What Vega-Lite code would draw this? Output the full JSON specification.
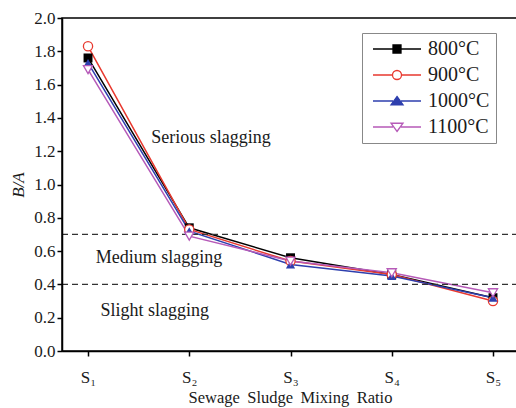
{
  "$schema": "https://vega.github.io/schema/vega-lite/v6.json",
  "width": 456,
  "height": 333,
  "autosize": "none",
  "padding": {"left": 62, "top": 18, "right": 0, "bottom": 57},
  "background": "white",
  "config": {
    "font": "Liberation Serif",
    "view": {"stroke": "black", "strokeWidth": 1.5},
    "axis": {"labelOverlap": false, "tickColor": "black", "tickWidth": 1.5, "grid": false}
  },
  "datasets": {
    "series": [
      {"ratio": 1, "temp": "800°C", "ba": 1.76},
      {"ratio": 2, "temp": "800°C", "ba": 0.74},
      {"ratio": 3, "temp": "800°C", "ba": 0.56},
      {"ratio": 4, "temp": "800°C", "ba": 0.46},
      {"ratio": 5, "temp": "800°C", "ba": 0.32},
      {"ratio": 1, "temp": "900°C", "ba": 1.83},
      {"ratio": 2, "temp": "900°C", "ba": 0.73},
      {"ratio": 3, "temp": "900°C", "ba": 0.54},
      {"ratio": 4, "temp": "900°C", "ba": 0.46},
      {"ratio": 5, "temp": "900°C", "ba": 0.30},
      {"ratio": 1, "temp": "1000°C", "ba": 1.73},
      {"ratio": 2, "temp": "1000°C", "ba": 0.72},
      {"ratio": 3, "temp": "1000°C", "ba": 0.52},
      {"ratio": 4, "temp": "1000°C", "ba": 0.45},
      {"ratio": 5, "temp": "1000°C", "ba": 0.32},
      {"ratio": 1, "temp": "1100°C", "ba": 1.69},
      {"ratio": 2, "temp": "1100°C", "ba": 0.69},
      {"ratio": 3, "temp": "1100°C", "ba": 0.54},
      {"ratio": 4, "temp": "1100°C", "ba": 0.47},
      {"ratio": 5, "temp": "1100°C", "ba": 0.35}
    ],
    "zones": [
      {"label": "Serious slagging", "ratio": 2.215, "ba": 1.28},
      {"label": "Medium slagging", "ratio": 1.70, "ba": 0.56},
      {"label": "Slight slagging", "ratio": 1.66, "ba": 0.24}
    ],
    "limits": [{"ba": 0.7, "x0": 0.743, "x1": 5.247}, {"ba": 0.4, "x0": 0.743, "x1": 5.247}]
  },
  "encoding": {
    "x": {
      "field": "ratio", "type": "quantitative",
      "scale": {"domain": [0.743, 5.247], "nice": false, "zero": false},
      "title": "Sewage\u2009 Sludge\u2009 Mixing\u2009 Ratio",
      "axis": {
        "values": [1, 2, 3, 4, 5],
        "labelExpr": "'S' + ['₁','₂','₃','₄','₅'][datum.value-1]",
        "grid": false,
        "zindex": 1,
        "domainColor": "black", "domainWidth": 1.5,
        "ticks": true,
        "tickColor": "black", "tickWidth": 1.5, "tickSize": 5,
        "labelPadding": 13, "labelFontSize": 17, "labelColor": "#1a1a1a", "labelFont": "Liberation Serif",
        "titleFontSize": 16.5, "titleFontWeight": "normal", "titleColor": "#1a1a1a", "titlePadding": 4, "titleFont": "Liberation Serif"
      }
    },
    "y": {
      "field": "ba", "type": "quantitative",
      "scale": {"domain": [0, 2], "nice": false},
      "title": "B/A",
      "axis": {
        "values": [0, 0.2, 0.4, 0.6, 0.8, 1.0, 1.2, 1.4, 1.6, 1.8, 2.0],
        "format": ".1f",
        "labelOverlap": false,
        "grid": false,
        "zindex": 1,
        "domainColor": "black", "domainWidth": 1.5,
        "ticks": true,
        "tickColor": "black", "tickWidth": 1.5, "tickSize": 5,
        "labelPadding": 2, "labelFontSize": 17, "labelColor": "#1a1a1a", "labelFont": "Liberation Serif",
        "titleFontSize": 17, "titleFontStyle": "italic", "titleFontWeight": "normal", "titleColor": "#1a1a1a", "titlePadding": 6, "titleFont": "Liberation Serif"
      }
    }
  },
  "layer": [
    {
      "data": {"name": "series"},
      "mark": {"type": "line", "strokeWidth": 1.5},
      "encoding": {
        "color": {
          "field": "temp", "type": "nominal",
          "scale": {"domain": ["800°C", "900°C", "1000°C", "1100°C"], "range": ["#000000", "#e8392f", "#2e3fae", "#b65ab8"]}
        },
        "detail": {"field": "temp"}
      }
    },
    {
      "data": {"name": "limits"},
      "mark": {"type": "rule", "color": "#333333", "strokeWidth": 1.3, "strokeDash": [6, 4]},
      "encoding": {
        "x": {"field": "x0", "type": "quantitative"},
        "x2": {"field": "x1"}
      }
    },
    {
      "data": {"name": "zones"},
      "mark": {"type": "text", "fontSize": 18, "color": "#1a1a1a", "align": "center", "baseline": "middle", "font": "Liberation Serif"},
      "encoding": {"text": {"field": "label"}}
    },
    {
      "data": {"name": "series"},
      "transform": [{"filter": "datum.temp == '800°C'"}],
      "mark": {"type": "point", "shape": "square", "filled": true, "color": "#000000", "size": 80, "opacity": 1}
    },
    {
      "data": {"name": "series"},
      "transform": [{"filter": "datum.temp == '900°C'"}],
      "mark": {"type": "point", "shape": "circle", "fill": "#ffffff", "stroke": "#e8392f", "strokeWidth": 1.3, "size": 85, "opacity": 1}
    },
    {
      "data": {"name": "series"},
      "transform": [{"filter": "datum.temp == '1000°C'"}],
      "mark": {"type": "point", "shape": "triangle-up", "filled": true, "color": "#2e3fae", "size": 85, "opacity": 1}
    },
    {
      "data": {"name": "series"},
      "transform": [{"filter": "datum.temp == '1100°C'"}],
      "mark": {"type": "point", "shape": "triangle-down", "fill": "#ffffff", "stroke": "#b65ab8", "strokeWidth": 1.3, "size": 85, "opacity": 1}
    },
    {
      "data": {"name": "series"},
      "transform": [{"filter": "datum.ba > 100"}],
      "mark": {"type": "point", "filled": false, "strokeWidth": 1.3, "opacity": 1},
      "encoding": {
        "color": {
          "field": "temp", "type": "nominal",
          "legend": {
            "title": null,
            "orient": "none", "legendX": 300, "legendY": 15,
            "direction": "vertical",
            "fillColor": "white", "strokeColor": "#888888",
            "padding": 6,
            "symbolSize": 100, "symbolStrokeWidth": 1.3, "symbolOffset": 19,
            "labelOffset": 21, "labelFontSize": 20, "labelColor": "#1a1a1a",
            "labelFont": "Liberation Serif",
            "rowPadding": 6
          }
        },
        "shape": {
          "field": "temp", "type": "nominal",
          "scale": {
            "domain": ["800°C", "900°C", "1000°C", "1100°C"],
            "range": [
              "M-4.8,0H-0.8M0.8,0H4.8M-0.8,-0.8H0.8V0.8H-0.8Z",
              "M-4.8,0H-0.9M0.9,0H4.8M-0.9,0A0.9,0.9,0,1,1,0.9,0A0.9,0.9,0,1,1,-0.9,0Z",
              "M-4.8,0H-0.8M0.8,0H4.8M0,-0.9L1.2,0.75H-1.2Z",
              "M-4.8,0H-0.8M0.8,0H4.8M0,0.9L1.2,-0.75H-1.2Z"
            ]
          },
          "legend": {
            "title": null,
            "orient": "none", "legendX": 300, "legendY": 15,
            "direction": "vertical",
            "fillColor": "white", "strokeColor": "#888888",
            "padding": 6,
            "symbolSize": 100, "symbolStrokeWidth": 1.3, "symbolOffset": 19,
            "labelOffset": 21, "labelFontSize": 20, "labelColor": "#1a1a1a",
            "labelFont": "Liberation Serif",
            "rowPadding": 6
          }
        },
        "fill": {
          "field": "temp", "type": "nominal",
          "scale": {"domain": ["800°C", "900°C", "1000°C", "1100°C"], "range": ["#000000", "#ffffff", "#2e3fae", "#ffffff"]},
          "legend": {
            "title": null,
            "orient": "none", "legendX": 300, "legendY": 15,
            "direction": "vertical",
            "fillColor": "white", "strokeColor": "#888888",
            "padding": 6,
            "symbolSize": 100, "symbolStrokeWidth": 1.3, "symbolOffset": 19,
            "labelOffset": 21, "labelFontSize": 20, "labelColor": "#1a1a1a",
            "labelFont": "Liberation Serif",
            "rowPadding": 6
          }
        }
      }
    }
  ]
}
